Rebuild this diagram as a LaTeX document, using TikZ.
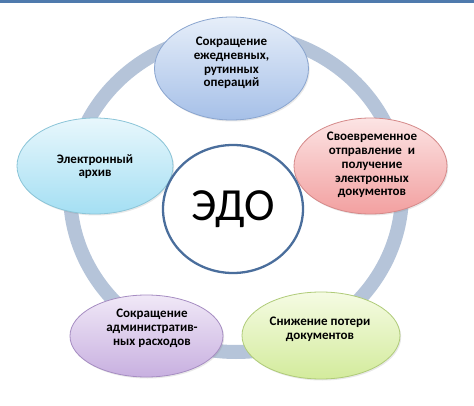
\documentclass[tikz,border=0pt]{standalone}
\usepackage{fontspec}
\setmainfont{Carlito}[BoldFont={Carlito Bold}]
\usepackage{xcolor}
\usepackage{tikz}
\usetikzlibrary{calc,shapes.geometric,shadows}
\definecolor{bar}{HTML}{4F7AAD}
\definecolor{ring}{HTML}{B5C4D9}
\definecolor{hubline}{HTML}{4A6E9C}
\definecolor{blueTop}{HTML}{E6EEF9}
\definecolor{blueBot}{HTML}{A6C0E8}
\definecolor{blueLine}{HTML}{8AA5CF}
\definecolor{cyanTop}{HTML}{E8F7FC}
\definecolor{cyanBot}{HTML}{A4DFF3}
\definecolor{cyanLine}{HTML}{8BC5D8}
\definecolor{redTop}{HTML}{FCE4E4}
\definecolor{redBot}{HTML}{F2A0A0}
\definecolor{redLine}{HTML}{D58989}
\definecolor{lilacTop}{HTML}{F0E8F7}
\definecolor{lilacBot}{HTML}{C8B0E0}
\definecolor{lilacLine}{HTML}{A68DC2}
\definecolor{limeTop}{HTML}{F5FBE3}
\definecolor{limeBot}{HTML}{D3EB9C}
\definecolor{limeLine}{HTML}{AFCB78}
\tikzset{
  ringline/.style={draw=ring, line width=14pt},
  petal/.style={ellipse, line width=0.8pt, inner sep=0pt,
    drop shadow={shadow xshift=1.2pt, shadow yshift=-1.5pt, opacity=0.18}},
  hub/.style={ellipse, draw=hubline, fill=white, line width=2.3pt, inner sep=0pt,
    minimum width=140pt, minimum height=128pt},
  lab/.style={font=\fontsize{13}{13.8}\selectfont\bfseries, align=center, text=black},
  big/.style={font=\fontsize{46}{50}\selectfont, text=black},
}

\begin{document}
\begin{tikzpicture}[x=1pt,y=-1pt]
  \useasboundingbox (0,0) rectangle (474,406);
  \fill[white] (0,0) rectangle (474,406);
  \fill[bar] (0,0) rectangle (474,3.5);
  % ring behind everything
  \coordinate (C) at (236,193);
  \draw[ringline] (C) ellipse [x radius=166pt, y radius=159pt];
  % petals
  \node[petal, draw=blueLine, top color=blueTop, bottom color=blueBot,
    minimum width=154pt, minimum height=103pt] (daily) at (231.5,68.5) {};
  \node[petal, draw=cyanLine, top color=cyanTop, bottom color=cyanBot,
    minimum width=156pt, minimum height=96pt] (archive) at (95,166) {};
  \node[petal, draw=redLine, top color=redTop, bottom color=redBot,
    minimum width=153pt, minimum height=96pt] (sending) at (370.5,166) {};
  \node[petal, draw=lilacLine, top color=lilacTop, bottom color=lilacBot,
    minimum width=153pt, minimum height=82pt] (costs) at (146.5,336) {};
  \node[petal, draw=limeLine, top color=limeTop, bottom color=limeBot,
    minimum width=158pt, minimum height=87pt] (loss) at (321,335.5) {};
  \node[hub] (edo) at (233,209) {};
  % texts
  \node[lab] (dailytext) at ([yshift=5.5pt]daily.center) {Сокращение\\ежедневных,\\рутинных\\операций};
  \node[lab] (archivetext) at ([yshift=-0.5pt]archive.center) {Электронный\\архив};
  \node[lab] (sendingtext) at ([xshift=1.5pt,yshift=1pt]sending.center) {Своевременное\\отправление~ и\\получение\\электронных\\документов};
  \node[lab] (coststext) at ([xshift=5.5pt,yshift=8pt]costs.center) {Сокращение\\административ-\\ных расходов};
  \node[lab] (losstext) at ([xshift=-1pt,yshift=6.5pt]loss.center) {Снижение потери\\документов};
  \node[big] (edotext) at (edo.center) {ЭДО};
\end{tikzpicture}
\end{document}
